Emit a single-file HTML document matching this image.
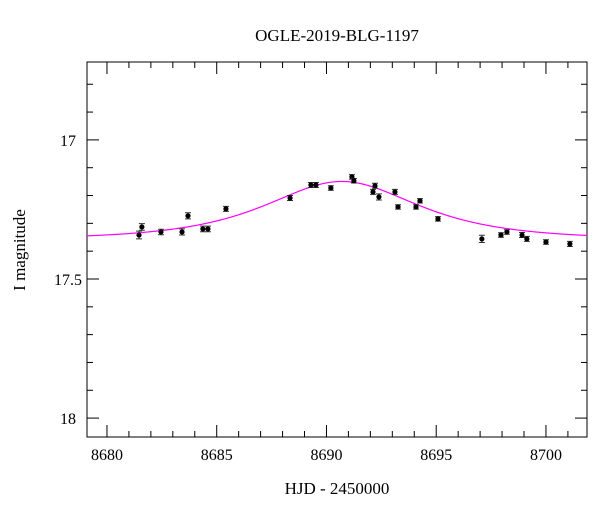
<!DOCTYPE html>
<html><head><meta charset="utf-8"><style>
body{margin:0;background:#fff}
svg text{font-family:"Liberation Serif",serif;fill:#000}
</style></head><body>
<svg id="chart" width="600" height="512" xmlns="http://www.w3.org/2000/svg">
<rect width="600" height="512" fill="#fff"/>
<text x="337" y="41" font-size="17" text-anchor="middle">OGLE-2019-BLG-1197</text>
<text x="337" y="494" font-size="17" text-anchor="middle">HJD - 2450000</text>
<text x="0" y="0" font-size="17" text-anchor="middle" transform="translate(25,250) rotate(-90)">I magnitude</text>
<g id="plot"></g>
</svg>
<script>
const times=[8681.46,8681.59,8682.46,8683.42,8683.69,8684.37,8684.60,8685.42,8688.34,8689.29,8689.52,8690.20,8691.16,8691.25,8692.12,8692.21,8692.39,8693.12,8693.26,8694.08,8694.26,8695.08,8697.08,8697.95,8698.22,8698.91,8699.13,8700.00,8701.09];
const mags=[17.342,17.313,17.331,17.331,17.273,17.320,17.320,17.248,17.209,17.162,17.162,17.173,17.133,17.147,17.187,17.165,17.205,17.187,17.241,17.241,17.219,17.284,17.356,17.342,17.331,17.342,17.356,17.367,17.374];
const errs=[0.014,0.012,0.010,0.011,0.011,0.010,0.010,0.009,0.009,0.009,0.009,0.008,0.008,0.008,0.009,0.009,0.011,0.009,0.008,0.008,0.008,0.008,0.013,0.008,0.008,0.009,0.009,0.008,0.009];
const xTicks=[8680,8685,8690,8695,8700];
const yTicks=[17,17.5,18];
const yTickLabels=["17","17.5","18"];
const model={t0:8690.7,tE:4.3,u0:1.0,fs:0.62,base:17.358};
const L=87,R=587,T=62,B=437,xMin=8679.09,xMax=8701.87,yMin=16.72,yMax=18.068;
const sx=t=>L+(t-xMin)/(xMax-xMin)*(R-L);
const sy=m=>T+(m-yMin)/(yMax-yMin)*(B-T);
const NS="http://www.w3.org/2000/svg";
const g=document.getElementById('plot');
function mk(tag,attrs,parent){const e=document.createElementNS(NS,tag);for(const k in attrs)e.setAttribute(k,attrs[k]);(parent||g).appendChild(e);return e;}
const frame=mk('rect',{x:L,y:T,width:R-L,height:B-T,fill:'none',stroke:'#000','stroke-width':1});


for(let t=8680;t<=8701;t++){const x=sx(t);const len=(t%5===0)?12:6;
 const a=mk('line',{x1:x,x2:x,y1:B,y2:B-len,stroke:'#000'});
 const b=mk('line',{x1:x,x2:x,y1:T,y2:T+len,stroke:'#000'});}
xTicks.forEach(t=>{const tx=mk('text',{x:sx(t),y:460,'font-size':16,'text-anchor':'middle'});tx.textContent=t;});
for(let i=8;i<=20;i++){const m=16+i*0.1;const y=sy(m);if(y<T||y>B)continue;const len=(i%5===0)?12:6;
 const a=mk('line',{x1:L,x2:L+len,y1:y,y2:y,stroke:'#000'});
 const b=mk('line',{x1:R,x2:R-len,y1:y,y2:y,stroke:'#000'});}
yTicks.forEach((m,i)=>{const tx=mk('text',{x:68,y:sy(m)+6,'font-size':16,'text-anchor':'middle'});tx.textContent=yTickLabels[i];});
function A(u){return (u*u+2)/(u*Math.sqrt(u*u+4));}
let d='';for(let px=L;px<=R;px+=1){const t=xMin+(px-L)/(R-L)*(xMax-xMin);const tau=(t-model.t0)/model.tE;const u=Math.sqrt(model.u0*model.u0+tau*tau);
 const m=model.base-2.5*Math.log10(1+model.fs*(A(u)-1));d+=(px===L?'M':'L')+px+','+sy(m).toFixed(2);}
const curve=mk('path',{d:d,fill:'none',stroke:'#ff00ff','stroke-width':1.2});


times.forEach((t,i)=>{const x=sx(t),y=sy(mags[i]),e=errs[i];const y1=sy(mags[i]-e),y2=sy(mags[i]+e);
 const eb=mk('path',{d:`M${x},${y1}L${x},${y2}M${x-3},${y1}L${x+3},${y1}M${x-3},${y2}L${x+3},${y2}`,stroke:'#333','stroke-width':1});
 
 const c=mk('circle',{cx:x,cy:y,r:2.6,fill:'#000'});
 });
</script>
</body></html>
